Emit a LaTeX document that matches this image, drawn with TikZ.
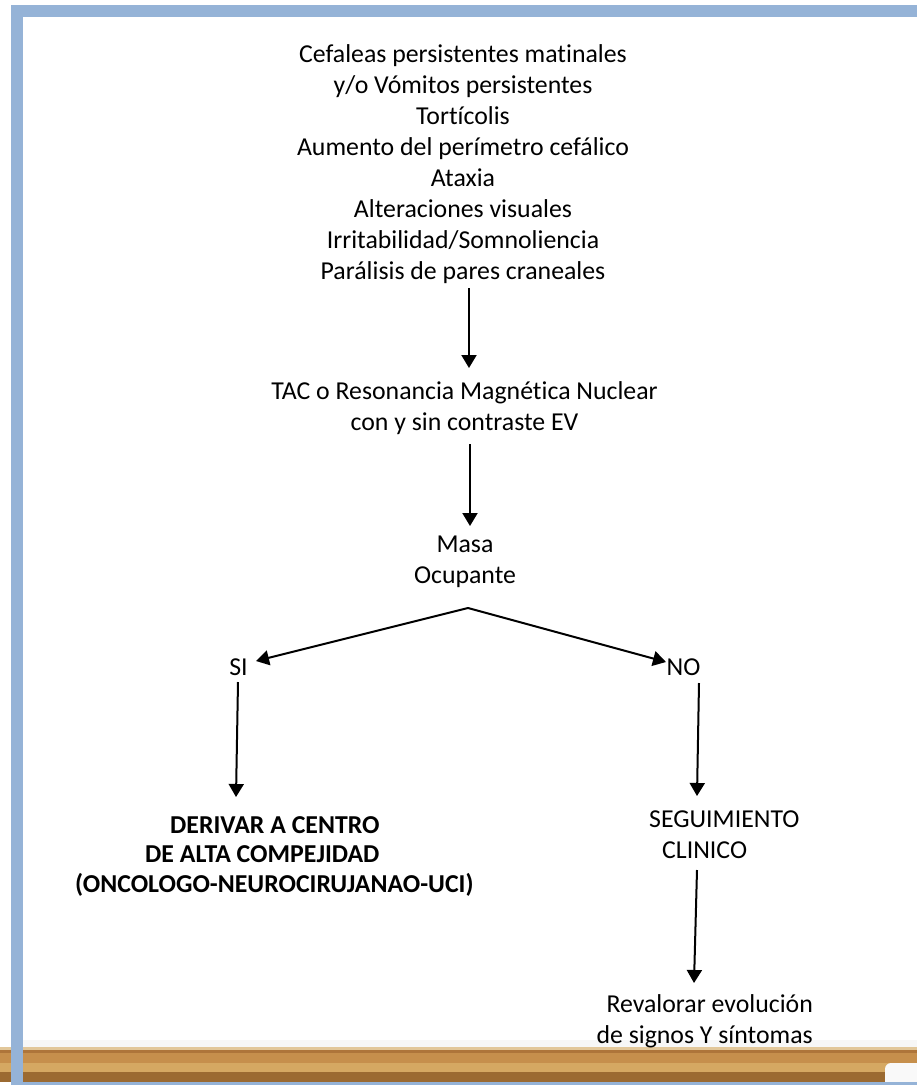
\documentclass[tikz,border=0pt]{standalone}
\usepackage{fontspec}
\setmainfont{Carlito}[Ligatures={NoCommon}]
\usetikzlibrary{arrows.meta}
\definecolor{frameblue}{HTML}{95B3D7}
\definecolor{woodA}{HTML}{E2C79A}
\definecolor{woodB}{HTML}{AE753A}
\definecolor{woodC}{HTML}{C68F4C}
\definecolor{woodD}{HTML}{D5A862}
\definecolor{woodE}{HTML}{9B6A31}
\tikzset{
  txt/.style={inner sep=0pt, font=\fontsize{25.8}{31}\selectfont, align=center},
  boldtxt/.style={inner sep=0pt, font=\fontsize{25.8}{29.5}\selectfont\bfseries, align=left},
  arr/.style={line width=2pt, -{Triangle[width=15pt,length=13pt]}},
}
\begin{document}
\begin{tikzpicture}[x=1pt,y=-1pt]
\useasboundingbox (0,0) rectangle (917,1085);
\fill[white] (0,0) rectangle (917,1085);
% wood bar
\fill[gray!6] (23,1040) rectangle (917,1048);
\fill[woodA] (0,1047) rectangle (917,1050);
\fill[woodB] (0,1050) rectangle (917,1053);
\fill[woodC] (0,1053) rectangle (917,1063);
\fill[woodD] (0,1063) rectangle (917,1072);
\fill[woodE] (0,1072) rectangle (917,1082);
\fill[white!95!gray, rounded corners=6pt] (885,1063) rectangle (930,1090);
% frame
\fill[frameblue] (11,5) rectangle (917,17);
\fill[frameblue] (11,5) rectangle (23,1085);
\fill[frameblue] (11,1082) rectangle (917,1085);

\node[txt, anchor=base] (sint) at (463,279) {Cefaleas persistentes matinales\\y/o Vómitos persistentes\\Tortícolis\\Aumento del perímetro cefálico\\Ataxia\\Alteraciones visuales\\Irritabilidad/Somnoliencia\\Parálisis de pares craneales};
\node[txt, anchor=base] (tac) at (464.5,430) {TAC o Resonancia Magnética Nuclear\\con y sin contraste EV};
\node[txt, anchor=base] (masa) at (465,583) {Masa\\Ocupante};
\node[txt, anchor=base] (si) at (238.5,675) {SI};
\node[txt, anchor=base] (no) at (683.5,675) {NO};
\node[boldtxt, anchor=base west] (der) at (75,892) {\hspace*{95pt}DERIVAR A CENTRO\\\hspace*{70pt}DE ALTA COMPEJIDAD\\(ONCOLOGO-NEUROCIRUJANAO-UCI)};
\node[txt, align=left, anchor=base west] (seg) at (649,858) {SEGUIMIENTO\\\hspace*{13pt}CLINICO};
\node[txt, align=right, anchor=base east] (rev) at (813,1043) {Revalorar evolución\\de signos Y síntomas};

\coordinate (a1s) at (469,288); \coordinate (a1e) at (469,368);
\coordinate (a2s) at (470,444); \coordinate (a2e) at (470,526);
\coordinate (apex) at (468,608);
\coordinate (sitip) at (256,661); \coordinate (notip) at (666,662);
\coordinate (a3s) at (238,682); \coordinate (a3e) at (236,797);
\coordinate (a4s) at (699,683); \coordinate (a4e) at (697,796);
\coordinate (a5s) at (697,870); \coordinate (a5e) at (694,983);

\draw[arr] (a1s) -- (a1e);
\draw[arr] (a2s) -- (a2e);
\draw[arr] (apex) -- (sitip);
\draw[arr] (apex) -- (notip);
\draw[arr] (a3s) -- (a3e);
\draw[arr] (a4s) -- (a4e);
\draw[arr] (a5s) -- (a5e);
\end{tikzpicture}
\end{document}
